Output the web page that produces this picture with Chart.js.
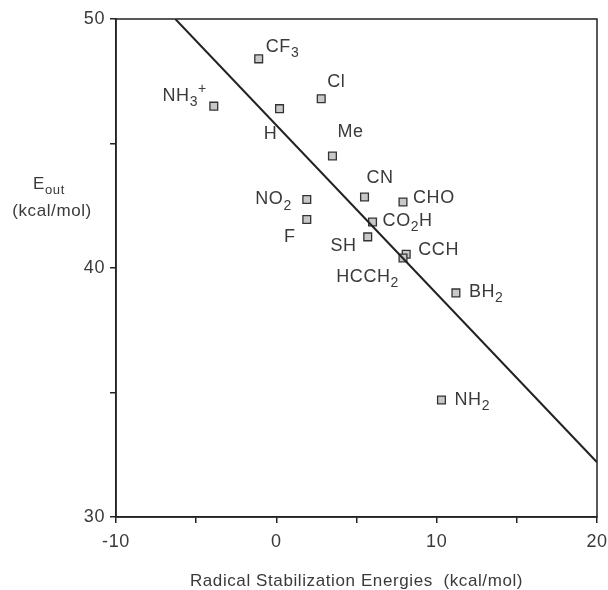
<!DOCTYPE html>
<html>
<head>
<meta charset="utf-8">
<script src="https://cdn.jsdelivr.net/npm/chart.js@4.4.1/dist/chart.umd.min.js"></script>
<style>
  html, body { margin: 0; padding: 0; background: #fff; }
  #wrap { width: 608px; height: 590px; }
</style>
</head>
<body>
<div id="wrap"><canvas id="chart" width="608" height="590"></canvas></div>
<script>
// Substituents (labels use _ for subscript, ^ for superscript)
const substituents = ['CF_3', 'NH_3^+', 'H', 'Cl', 'Me', 'NO_2', 'F', 'CN', 'CHO', 'CO_2H', 'SH', 'CCH', 'HCCH_2', 'BH_2', 'NH_2'];
// Radical stabilization energies (kcal/mol)
const rseValues = [-1.1, -3.9, 0.2, 2.8, 3.5, 1.9, 1.9, 5.5, 7.9, 6.0, 5.7, 8.1, 7.9, 11.2, 10.3];
// E_out (kcal/mol)
const eoutValues = [48.4, 46.5, 46.4, 46.8, 44.5, 42.75, 41.95, 42.85, 42.65, 41.85, 41.25, 40.55, 40.4, 39.0, 34.7];
// fitted line end points
const fitX = [-6.3, 20];
const fitY = [50, 32.2];
const xTicks = [-10, 0, 10, 20];
const yTicks = [30, 40, 50];

// label placement relative to each point: [dx, dy, align]
const labelPlace = {
  'CF_3': [7, -12, 'left'],
  'NH_3^+': [-7, -10, 'right'],
  'H': [-9, 25, 'center'],
  'Cl': [6, -17, 'left'],
  'Me': [5, -24, 'left'],
  'NO_2': [-15, 0, 'right'],
  'F': [-17, 18, 'center'],
  'CN': [2, -19, 'left'],
  'CHO': [10, -4, 'left'],
  'CO_2H': [10, -1, 'left'],
  'SH': [-11, 9, 'right'],
  'CCH': [12, -4, 'left'],
  'HCCH_2': [-4, 19, 'right'],
  'BH_2': [13, -1, 'left'],
  'NH_2': [13, 0, 'left']
};

const FONT = '"Liberation Sans", Arial, sans-serif';
const TEXT = '#3a3a3a';
const SPACING = '0.6px';

function parseLabel(s) {
  const parts = [];
  let i = 0, buf = '';
  while (i < s.length) {
    const c = s[i];
    if (c === '_' || c === '^') {
      if (buf) { parts.push({ t: buf, k: 'n' }); buf = ''; }
      parts.push({ t: s[i + 1], k: c === '_' ? 'sub' : 'sup' });
      i += 2;
    } else {
      buf += c;
      i++;
    }
  }
  if (buf) parts.push({ t: buf, k: 'n' });
  return parts;
}

function drawRich(ctx, s, x, y, align, size) {
  const parts = parseLabel(s);
  const small = Math.round(size * 0.75);
  let w = 0;
  parts.forEach(p => {
    ctx.font = (p.k === 'n' ? size : small) + 'px ' + FONT;
    p.w = ctx.measureText(p.t).width;
    w += p.w;
  });
  let cx = align === 'left' ? x : align === 'right' ? x - w : x - w / 2;
  ctx.textBaseline = 'middle';
  ctx.textAlign = 'left';
  parts.forEach(p => {
    ctx.font = (p.k === 'n' ? size : small) + 'px ' + FONT;
    const dy = p.k === 'sub' ? size * 0.35 : p.k === 'sup' ? -size * 0.4 : 0;
    ctx.fillText(p.t, cx, y + dy);
    cx += p.w;
  });
}

const decorations = {
  id: 'decorations',
  beforeDraw(chart) {
    chart.ctx.letterSpacing = SPACING;
  },
  afterDraw(chart) {
    const ctx = chart.ctx;
    const a = chart.chartArea;
    ctx.save();
    ctx.letterSpacing = SPACING;
    // frame
    ctx.strokeStyle = '#222';
    ctx.lineWidth = 1.5;
    ctx.strokeRect(a.left, a.top, a.right - a.left, a.bottom - a.top);
    // point labels
    ctx.fillStyle = TEXT;
    const meta = chart.getDatasetMeta(1);
    meta.data.forEach((pt, i) => {
      const name = substituents[i];
      const p = labelPlace[name];
      drawRich(ctx, name, pt.x + p[0], pt.y + p[1], p[2], 18);
    });
    // y axis title
    drawRich(ctx, 'E_o_u_t', 49, 184, 'center', 17);
    ctx.font = '17px ' + FONT;
    ctx.textAlign = 'center';
    ctx.textBaseline = 'middle';
    ctx.fillText('(kcal/mol)', 52, 211);
    ctx.restore();
    ctx.letterSpacing = '0px';
  }
};

new Chart(document.getElementById('chart'), {
  type: 'scatter',
  data: {
    datasets: [
      {
        type: 'line',
        data: fitX.map((x, i) => ({ x: x, y: fitY[i] })),
        borderColor: '#222',
        borderWidth: 2,
        pointRadius: 0,
        fill: false
      },
      {
        data: rseValues.map((x, i) => ({ x: x, y: eoutValues[i] })),
        pointStyle: 'rect',
        pointRadius: 5.5,
        pointBackgroundColor: '#c8c8c8',
        pointBorderColor: '#333',
        pointBorderWidth: 1.3
      }
    ]
  },
  options: {
    responsive: false,
    animation: false,
    layout: { padding: { top: 19, right: 11, left: 0, bottom: 0 } },
    plugins: {
      legend: { display: false },
      tooltip: { enabled: false }
    },
    scales: {
      x: {
        type: 'linear',
        min: -10,
        max: 20,
        afterFit: s => { s.height = 73; s.paddingLeft = 0; s.paddingRight = 0; },
        afterBuildTicks: s => { s.ticks = [-10, -5, 0, 5, 10, 15, 20].map(v => ({ value: v })); },
        border: { color: '#222', width: 1.5 },
        grid: { drawOnChartArea: false, tickLength: 6, color: '#222', lineWidth: 1.5 },
        ticks: {
          maxRotation: 0,
          color: TEXT,
          font: { family: FONT, size: 18 },
          padding: 8,
          callback: v => xTicks.includes(v) ? String(v) : ''
        },
        title: {
          display: true,
          text: 'Radical Stabilization Energies  (kcal/mol)',
          color: TEXT,
          font: { family: FONT, size: 17 },
          padding: { top: 19, bottom: -2 }
        }
      },
      y: {
        type: 'linear',
        min: 30,
        max: 50,
        afterFit: s => { s.width = 116; s.paddingTop = 0; s.paddingBottom = 0; },
        afterBuildTicks: s => { s.ticks = [30, 35, 40, 45, 50].map(v => ({ value: v })); },
        border: { color: '#222', width: 1.5 },
        grid: { drawOnChartArea: false, tickLength: 6, color: '#222', lineWidth: 1.5 },
        ticks: {
          color: TEXT,
          font: { family: FONT, size: 18 },
          padding: 5,
          callback: v => yTicks.includes(v) ? String(v) : ''
        }
      }
    }
  },
  plugins: [decorations]
});
</script>
</body>
</html>
